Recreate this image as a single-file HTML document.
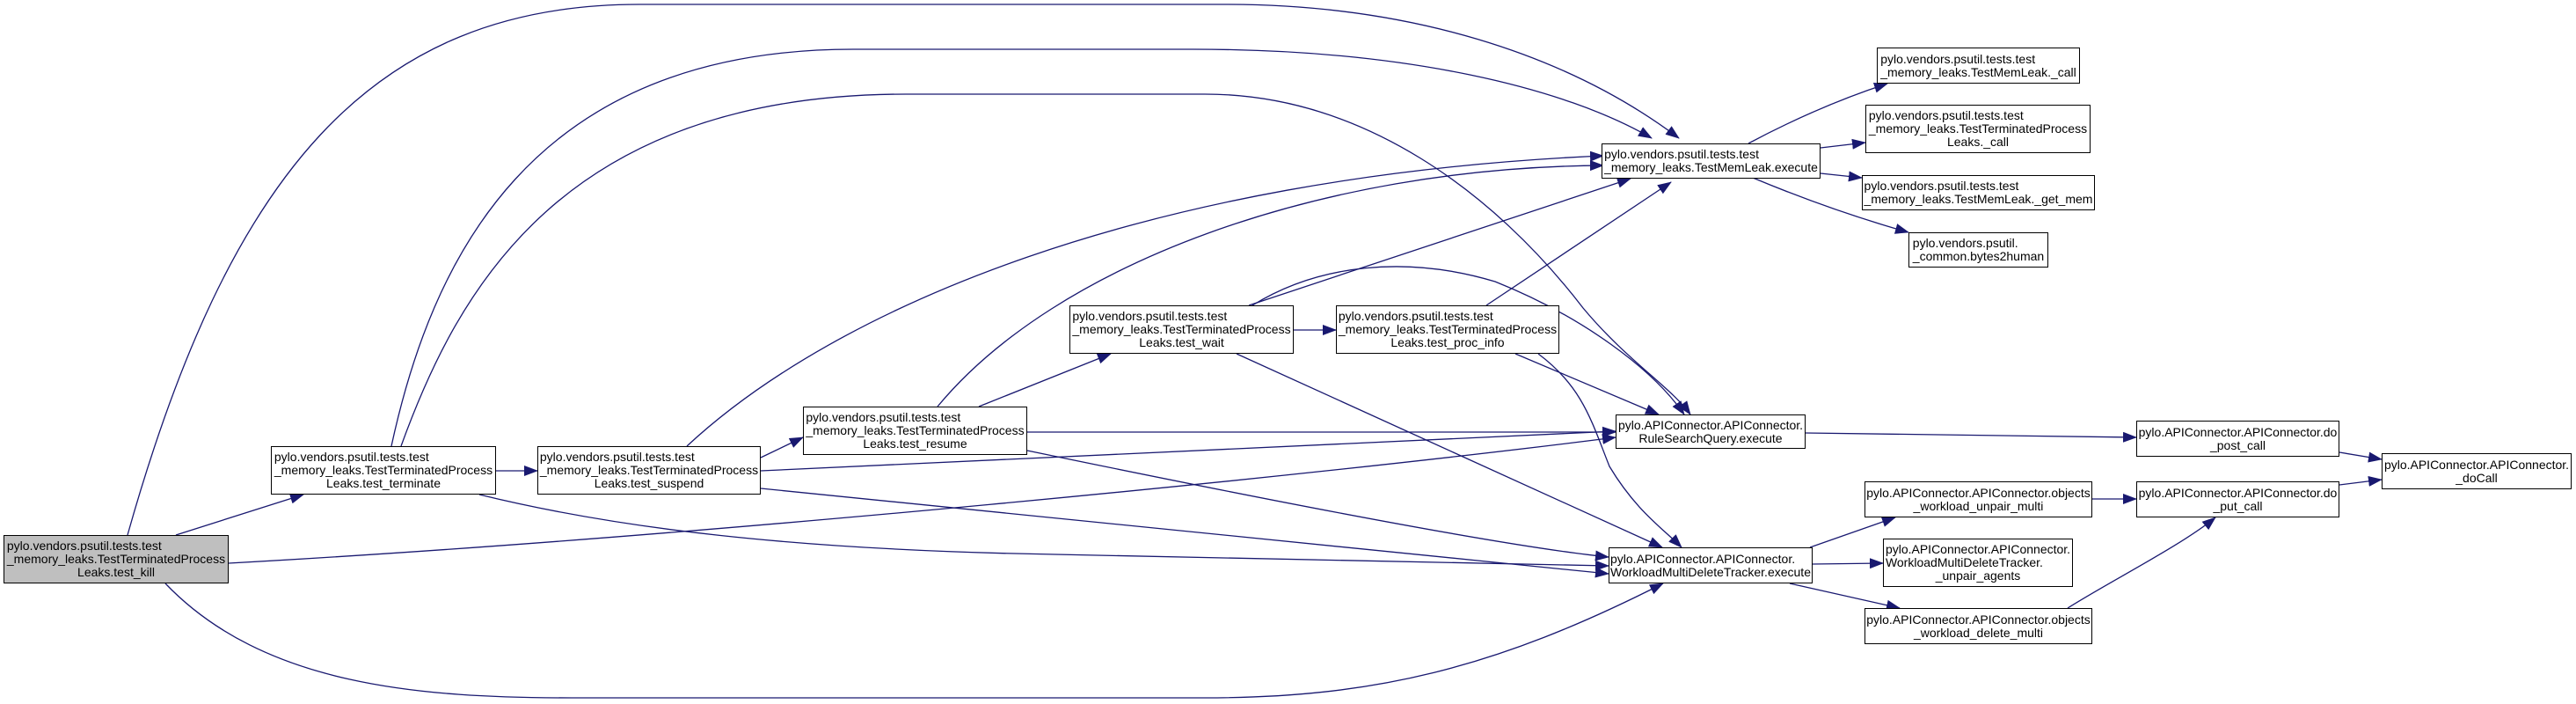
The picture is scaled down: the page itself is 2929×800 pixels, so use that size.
<!DOCTYPE html>
<html><head><meta charset="utf-8">
<style>
html,body{margin:0;padding:0;background:#fff;}
#c{position:relative;width:2929px;height:800px;overflow:hidden;}
svg{position:absolute;left:0;top:0;}
.n{position:absolute;box-sizing:border-box;border:1.5px solid #000;background:#fff;font-family:"Liberation Sans",sans-serif;font-size:14px;line-height:15px;color:#000;display:flex;justify-content:center;align-items:center;white-space:nowrap;}
.n>div{display:inline-block;text-align:left;}
.n>div>div:last-child{text-align:center;}
.g{background:#bfbfbf;}
</style></head><body><div id="c">
<svg width="2929" height="800" viewBox="0 0 2929 800">
<defs><marker id="a" markerUnits="userSpaceOnUse" markerWidth="16" markerHeight="12" refX="15" refY="6" orient="auto"><path d="M0,0 L16,6 L0,12 z" fill="#191970"/></marker></defs>
<g fill="none" stroke="#191970" stroke-width="1.3" marker-end="url(#a)">
<path d="M145,608 C260,200 420,5 727,5 L1394,5 C1600,5 1780,60 1909,157"/>
<path d="M445,507 C490,300 600,56 970,56 L1357,56 C1600,56 1780,100 1878,157"/>
<path d="M456,507 C520,330 640,107 1030,107 L1370,107 C1550,107 1700,220 1800,350 C1850,410 1900,440 1922,471"/>
<path d="M200,608 L345,562"/>
<path d="M260,640 C800,610 1500,540 1837,497"/>
<path d="M188,663 C300,780 480,793 650,793 L1370,793 C1560,793 1700,760 1891,663"/>
<path d="M563,535 L611,535"/>
<path d="M545,562 C700,600 900,625 1200,630 L1829,643"/>
<path d="M781,507 C950,350 1300,200 1823,177"/>
<path d="M865,520 L913,497"/>
<path d="M865,535 L1837,490"/>
<path d="M865,555 L1829,652"/>
<path d="M1066,462 C1200,300 1500,190 1823,188"/>
<path d="M1113,462 L1263,402"/>
<path d="M1168,491 L1837,491"/>
<path d="M1168,512 C1400,560 1700,620 1829,633"/>
<path d="M1420,347 L1854,203"/>
<path d="M1471,375 L1519,375"/>
<path d="M1424,347 C1500,300 1600,290 1700,320 C1800,360 1880,420 1915,471"/>
<path d="M1406,402 L1890,622"/>
<path d="M1690,347 L1900,207"/>
<path d="M1723,402 L1886,471"/>
<path d="M1749,402 C1800,440 1810,480 1830,530 C1860,580 1890,600 1912,622"/>
<path d="M1988,163 C2050,130 2100,110 2146,95"/>
<path d="M2070,168 L2121,162"/>
<path d="M2070,197 L2117,202"/>
<path d="M1993,202 C2060,230 2120,250 2170,264"/>
<path d="M2053,492 L2429,497"/>
<path d="M2058,622 L2155,588"/>
<path d="M2061,641 L2141,640"/>
<path d="M2035,663 L2160,691"/>
<path d="M2379,567 L2429,567"/>
<path d="M2351,691 C2400,660 2480,620 2519,588"/>
<path d="M2660,514 L2708,522"/>
<path d="M2660,551 L2708,545"/>
</g></svg>

<div class="n g" style="left:4px;top:608px;width:256px;height:55px"><div><div>pylo.vendors.psutil.tests.test</div><div>_memory_leaks.TestTerminatedProcess</div><div>Leaks.test_kill</div></div></div>
<div class="n" style="left:308px;top:507px;width:256px;height:55px"><div><div>pylo.vendors.psutil.tests.test</div><div>_memory_leaks.TestTerminatedProcess</div><div>Leaks.test_terminate</div></div></div>
<div class="n" style="left:611px;top:507px;width:254px;height:55px"><div><div>pylo.vendors.psutil.tests.test</div><div>_memory_leaks.TestTerminatedProcess</div><div>Leaks.test_suspend</div></div></div>
<div class="n" style="left:913px;top:462px;width:255px;height:55px"><div><div>pylo.vendors.psutil.tests.test</div><div>_memory_leaks.TestTerminatedProcess</div><div>Leaks.test_resume</div></div></div>
<div class="n" style="left:1216px;top:347px;width:255px;height:55px"><div><div>pylo.vendors.psutil.tests.test</div><div>_memory_leaks.TestTerminatedProcess</div><div>Leaks.test_wait</div></div></div>
<div class="n" style="left:1519px;top:347px;width:254px;height:55px"><div><div>pylo.vendors.psutil.tests.test</div><div>_memory_leaks.TestTerminatedProcess</div><div>Leaks.test_proc_info</div></div></div>
<div class="n" style="left:1821px;top:163px;width:249px;height:40px"><div><div>pylo.vendors.psutil.tests.test</div><div>_memory_leaks.TestMemLeak.execute</div></div></div>
<div class="n" style="left:2134px;top:54px;width:231px;height:41px"><div><div>pylo.vendors.psutil.tests.test</div><div>_memory_leaks.TestMemLeak._call</div></div></div>
<div class="n" style="left:2121px;top:119px;width:256px;height:55px"><div><div>pylo.vendors.psutil.tests.test</div><div>_memory_leaks.TestTerminatedProcess</div><div>Leaks._call</div></div></div>
<div class="n" style="left:2117px;top:199px;width:265px;height:40px"><div><div>pylo.vendors.psutil.tests.test</div><div>_memory_leaks.TestMemLeak._get_mem</div></div></div>
<div class="n" style="left:2170px;top:264px;width:159px;height:40px"><div><div>pylo.vendors.psutil.</div><div>_common.bytes2human</div></div></div>
<div class="n" style="left:1837px;top:471px;width:216px;height:39px"><div><div>pylo.APIConnector.APIConnector.</div><div>RuleSearchQuery.execute</div></div></div>
<div class="n" style="left:1829px;top:622px;width:232px;height:41px"><div><div>pylo.APIConnector.APIConnector.</div><div>WorkloadMultiDeleteTracker.execute</div></div></div>
<div class="n" style="left:2120px;top:547px;width:259px;height:41px"><div><div>pylo.APIConnector.APIConnector.objects</div><div>_workload_unpair_multi</div></div></div>
<div class="n" style="left:2141px;top:612px;width:216px;height:55px"><div><div>pylo.APIConnector.APIConnector.</div><div>WorkloadMultiDeleteTracker.</div><div>_unpair_agents</div></div></div>
<div class="n" style="left:2120px;top:691px;width:259px;height:41px"><div><div>pylo.APIConnector.APIConnector.objects</div><div>_workload_delete_multi</div></div></div>
<div class="n" style="left:2429px;top:478px;width:231px;height:41px"><div><div>pylo.APIConnector.APIConnector.do</div><div>_post_call</div></div></div>
<div class="n" style="left:2429px;top:547px;width:231px;height:41px"><div><div>pylo.APIConnector.APIConnector.do</div><div>_put_call</div></div></div>
<div class="n" style="left:2708px;top:515px;width:216px;height:41px"><div><div>pylo.APIConnector.APIConnector.</div><div>_doCall</div></div></div>
</div></body></html>
